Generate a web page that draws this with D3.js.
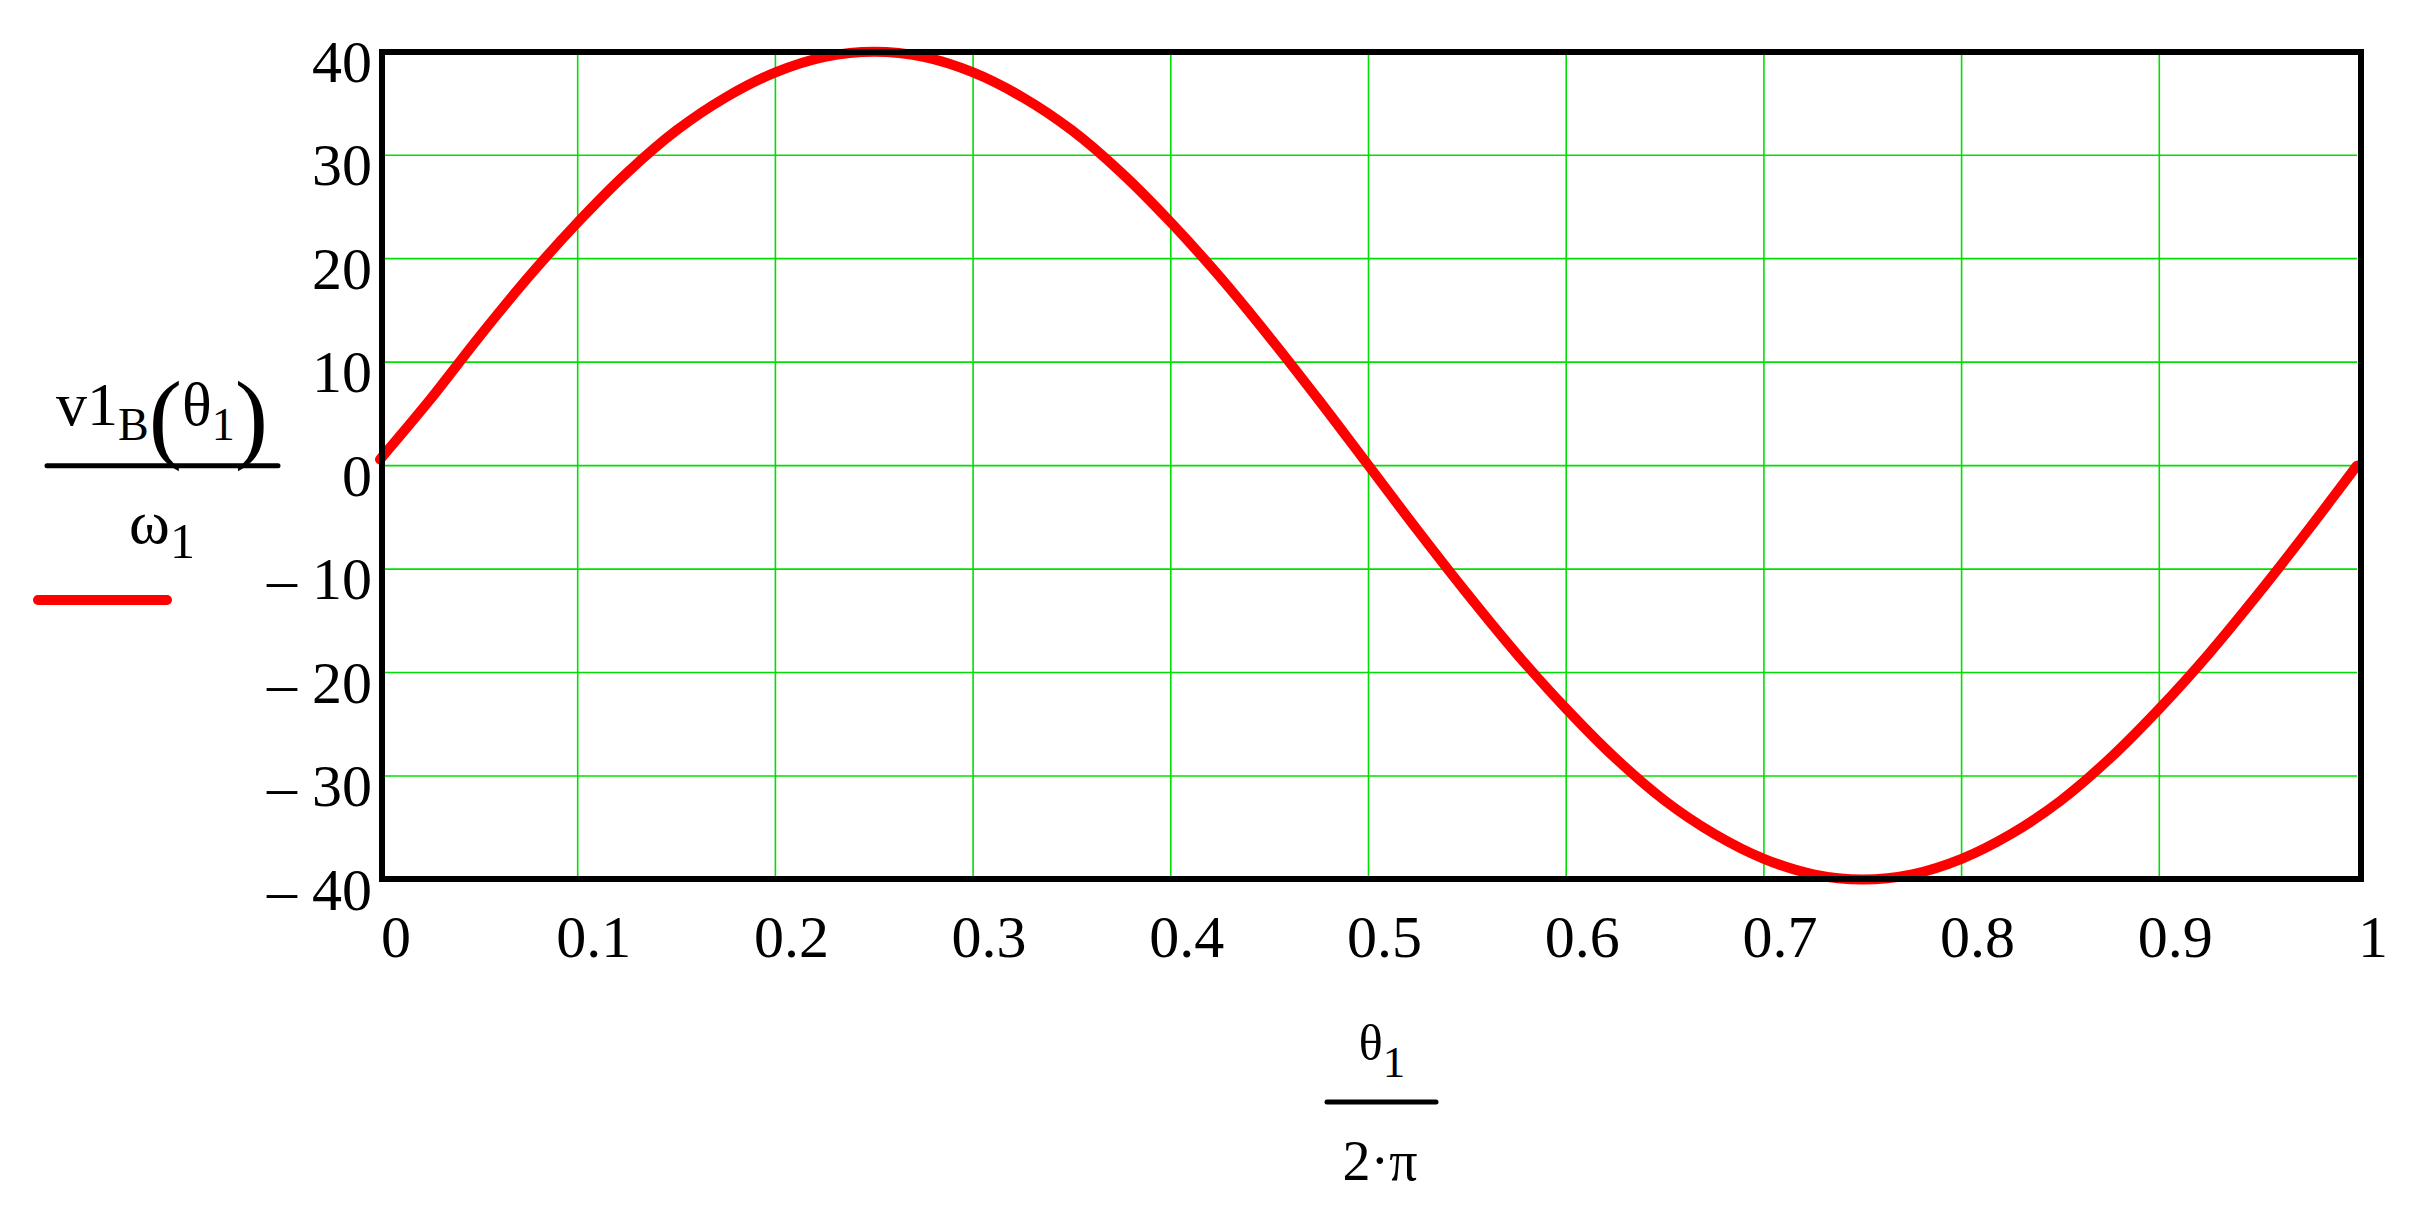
<!DOCTYPE html>
<html>
<head>
<meta charset="utf-8">
<script src="https://cdn.jsdelivr.net/npm/d3@7"></script>
<style>
html,body{margin:0;padding:0;background:#fff;}
svg{display:block;}
text{font-family:"Liberation Serif","Times New Roman",serif;fill:#000;}
</style>
</head>
<body>
<svg id="chart" width="2425" height="1209"></svg>
<script>
// Data
const xValues = [0,0.025,0.05,0.075,0.1,0.125,0.15,0.175,0.2,0.225,0.25,0.275,0.3,0.325,0.35,0.375,0.4,0.425,0.45,0.475,0.5,0.525,0.55,0.575,0.6,0.625,0.65,0.675,0.7,0.725,0.75,0.775,0.8,0.825,0.85,0.875,0.9,0.925,0.95,0.975,1];
const yValues = [0.6,6.3,12.4,18.2,23.5,28.3,32.4,35.6,38.0,39.5,40.0,39.5,38.0,35.6,32.4,28.3,23.5,18.2,12.4,6.3,0.0,-6.3,-12.4,-18.2,-23.5,-28.3,-32.4,-35.6,-38.0,-39.5,-40.0,-39.5,-38.0,-35.6,-32.4,-28.3,-23.5,-18.2,-12.4,-6.3,0.0];
const xTicks = [0,0.1,0.2,0.3,0.4,0.5,0.6,0.7,0.8,0.9,1];
const xTickLabels = ["0","0.1","0.2","0.3","0.4","0.5","0.6","0.7","0.8","0.9","1"];
const yTicks = [40,30,20,10,0,-10,-20,-30,-40];
const yTickLabels = ["40","30","20","10","0","\u2013 10","\u2013 20","\u2013 30","\u2013 40"];

const svg = d3.select("#chart");
const x = d3.scaleLinear().domain([0,1]).range([380,2357]);
const y = d3.scaleLinear().domain([-40,40]).range([879.5,51.7]);

const grid = svg.append("g");
grid.selectAll("line.v").data(xTicks.slice(1,-1)).enter().append("line")
  .attr("x1",d=>x(d)).attr("x2",d=>x(d)).attr("y1",y(40)).attr("y2",y(-40))
  .attr("stroke","#00e000").attr("stroke-width",1.6);
grid.selectAll("line.h").data(yTicks.slice(1,-1)).enter().append("line")
  .attr("x1",x(0)).attr("x2",x(1)).attr("y1",d=>y(d)).attr("y2",d=>y(d))
  .attr("stroke","#00e000").attr("stroke-width",1.6);

const pts = xValues.map((v,i)=>[v,yValues[i]]);
const line = d3.line().x(d=>x(d[0])).y(d=>y(d[1])).curve(d3.curveCatmullRom);
svg.append("path").datum(pts).attr("d",line)
  .attr("fill","none").attr("stroke","#ff0000").attr("stroke-width",10)
  .attr("stroke-linejoin","round").attr("stroke-linecap","round");

// frame
svg.append("rect").attr("x",382).attr("y",52).attr("width",2361-382).attr("height",879-52)
  .attr("fill","none").attr("stroke","#000").attr("stroke-width",6);

// y tick labels
svg.append("g").selectAll("text").data(yTicks).enter().append("text")
  .attr("x",372).attr("y",d=>y(d)+30).attr("text-anchor","end")
  .attr("font-size",60).text((d,i)=>yTickLabels[i]);

// x tick labels
svg.append("g").selectAll("text").data(xTicks).enter().append("text")
  .attr("x",d=>x(d)+16).attr("y",957).attr("text-anchor","middle")
  .attr("font-size",60).text((d,i)=>xTickLabels[i]);

// y axis label (fraction)
const yl = svg.append("g");
const num = yl.append("text").attr("x",162).attr("y",425).attr("text-anchor","middle").attr("font-size",62);
num.append("tspan").text("v1");
num.append("tspan").attr("font-size",46).attr("dy",15).text("B");
num.append("tspan").attr("font-size",100).attr("dy",10).text("(");
num.append("tspan").attr("font-size",62).attr("dy",-25).text("\u03b8");
num.append("tspan").attr("font-size",46).attr("dy",15).text("1");
num.append("tspan").attr("font-size",100).attr("dy",10).text(")");
yl.append("line").attr("x1",47).attr("x2",278).attr("y1",465.7).attr("y2",465.7)
  .attr("stroke","#000").attr("stroke-width",5).attr("stroke-linecap","round");
const den = yl.append("text").attr("x",162).attr("y",543).attr("text-anchor","middle").attr("font-size",62);
den.append("tspan").text("\u03c9");
den.append("tspan").attr("font-size",50).attr("dy",15).text("1");
// legend sample
yl.append("line").attr("x1",38).attr("x2",167).attr("y1",600).attr("y2",600)
  .attr("stroke","#ff0000").attr("stroke-width",10).attr("stroke-linecap","round");

// x axis label (fraction)
const xl = svg.append("g");
const xn = xl.append("text").attr("x",1382).attr("y",1060).attr("text-anchor","middle").attr("font-size",50);
xn.append("tspan").text("\u03b8");
xn.append("tspan").attr("font-size",45).attr("dy",17).text("1");
xl.append("line").attr("x1",1327).attr("x2",1436).attr("y1",1102).attr("y2",1102)
  .attr("stroke","#000").attr("stroke-width",5).attr("stroke-linecap","round");
xl.append("text").attr("x",1380).attr("y",1180).attr("text-anchor","middle").attr("font-size",56)
  .text("2\u00b7\u03c0");
</script>
</body>
</html>
